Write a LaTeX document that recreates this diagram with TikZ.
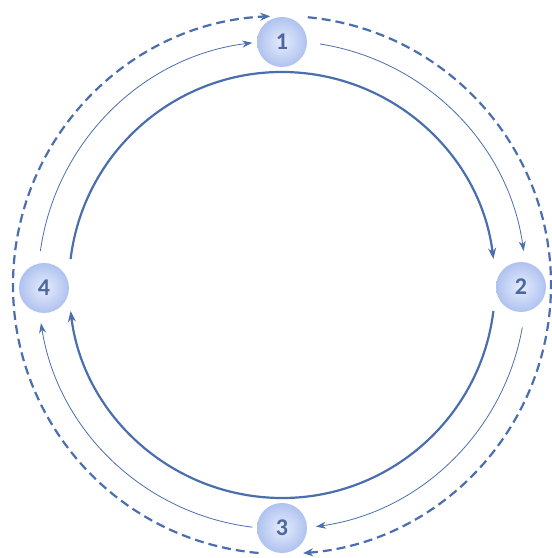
\documentclass[tikz,border=0pt]{standalone}
\usepackage{fontspec}
\setmainfont{Carlito}
\usepackage{tikz}
\usetikzlibrary{arrows.meta}
\definecolor{cyc-line}{HTML}{4A6EAE}
\definecolor{cyc-text}{HTML}{4D689E}
\definecolor{cyc-in}{HTML}{E6ECFD}
\definecolor{cyc-out}{HTML}{AFC2EF}

\begin{document}
\begin{tikzpicture}[
    x=1pt, y=1pt,
    stage/.style={circle, minimum size=50pt, inner sep=0pt, inner color=cyc-in, outer color=cyc-out, text=cyc-text, font=\fontsize{24}{24}\selectfont\bfseries},
    bigarrow/.style={-{Stealth[length=11pt, width=8pt]}, line width=2.2pt, draw=cyc-line},
    smallarrow/.style={-{Stealth[length=10pt, width=7pt]}, line width=0.8pt, draw=cyc-line},
    dasharrow/.style={-{Stealth[length=10pt, width=8pt]}, line width=2.2pt, draw=cyc-line, dash pattern=on 9pt off 5pt}
]
\useasboundingbox (0,0) rectangle (552,558);

% centre of the cycle
\coordinate (c) at (282,273);

% Inner thick ring
\draw[bigarrow] ([shift={(173:213)}]c) arc[start angle=173, end angle=7, radius=213];
\draw[bigarrow] ([shift={(-7:213)}]c) arc[start angle=-7, end angle=-173, radius=213];

% Middle thin ring
\draw[smallarrow] ([shift={(81:244)}]c) arc[start angle=81, end angle=8, radius=244];
\draw[smallarrow] ([shift={(-10:244)}]c) arc[start angle=-10, end angle=-82, radius=244];
\draw[smallarrow] ([shift={(-97:244)}]c) arc[start angle=-97, end angle=-171, radius=244];
\draw[smallarrow] ([shift={(172:244)}]c) arc[start angle=172, end angle=97, radius=244];

% Outer dashed ring
\draw[dasharrow] ([shift={(-95:269)}]c) arc[start angle=265, end angle=92.5, radius=269];
\draw[dasharrow] ([shift={(84.5:269)}]c) arc[start angle=84.5, end angle=-85.5, radius=269];

% Stages
\node[stage] (s1) at (282,516) {1};
\node[stage] (s2) at (521,271) {2};
\node[stage] (s3) at (282,30) {3};
\node[stage] (s4) at (44,270) {4};

\end{tikzpicture}
\end{document}
